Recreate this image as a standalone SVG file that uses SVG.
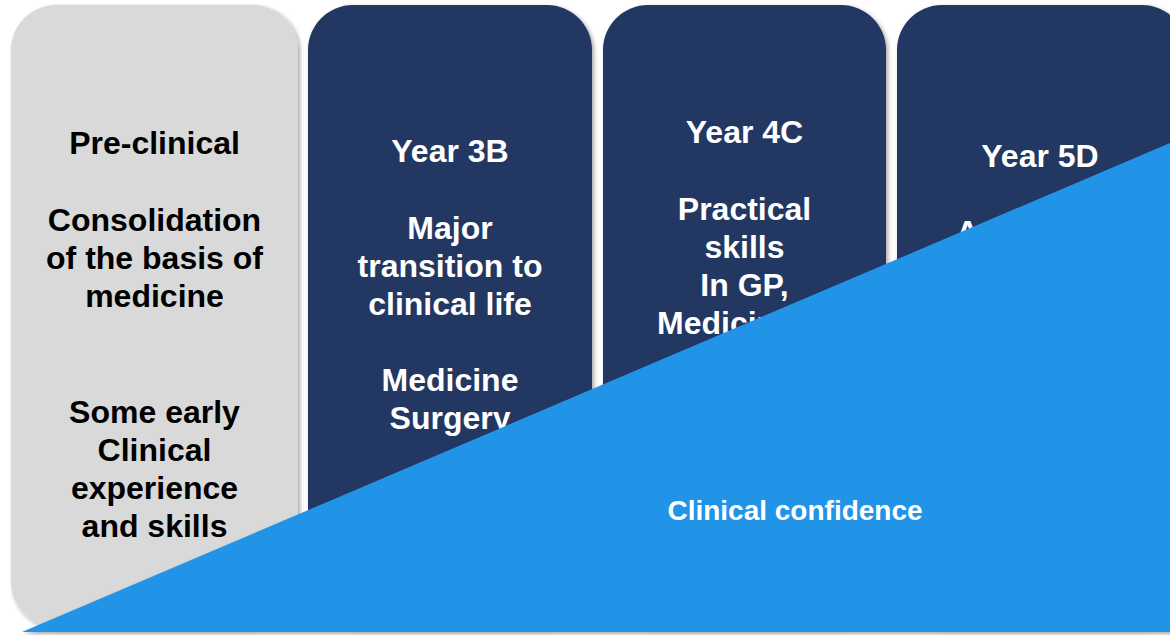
<svg xmlns="http://www.w3.org/2000/svg" width="1170" height="635" viewBox="0 0 1170 635">
<defs>
<filter id="sh" x="-10%" y="-10%" width="120%" height="120%">
<feDropShadow dx="2" dy="2" stdDeviation="2" flood-color="#000" flood-opacity="0.35"/>
</filter>
<style>
.col{filter:url(#sh)}
.t{font-family:"Liberation Sans",Arial,sans-serif;font-weight:bold;font-size:32px;text-anchor:middle}
.dk{fill:#000}
.wt{fill:#fff}
</style>
</defs>
<rect width="1170" height="635" fill="#fff"/>
<g id="col1">
<rect class="col" x="11" y="5" width="287" height="622" rx="45" fill="#D9D9D9"/>
<text class="t dk" x="154.5" y="154">Pre-clinical</text>
<text class="t dk" x="154.5" y="231">Consolidation</text>
<text class="t dk" x="154.5" y="269">of the basis of</text>
<text class="t dk" x="154.5" y="307">medicine</text>
<text class="t dk" x="154.5" y="423">Some early</text>
<text class="t dk" x="154.5" y="461">Clinical</text>
<text class="t dk" x="154.5" y="499">experience</text>
<text class="t dk" x="154.5" y="537">and skills</text>
</g>
<g id="col2">
<rect class="col" x="308" y="5" width="284" height="622" rx="45" fill="#203864"/>
<text class="t wt" x="450" y="162">Year 3B</text>
<text class="t wt" x="450" y="239">Major</text>
<text class="t wt" x="450" y="277">transition to</text>
<text class="t wt" x="450" y="315">clinical life</text>
<text class="t wt" x="450" y="391">Medicine</text>
<text class="t wt" x="450" y="429">Surgery</text>
</g>
<g id="col3">
<rect class="col" x="603" y="5" width="283" height="622" rx="45" fill="#203864"/>
<text class="t wt" x="744.5" y="143">Year 4C</text>
<text class="t wt" x="744.5" y="220">Practical</text>
<text class="t wt" x="744.5" y="258">skills</text>
<text class="t wt" x="744.5" y="296">In GP,</text>
<text class="t wt" x="657" y="334" style="text-anchor:start">Medicine,</text>
</g>
<g id="col4">
<rect class="col" x="897" y="5" width="290" height="622" rx="45" fill="#203864"/>
<text class="t wt" x="1040" y="167">Year 5D</text>
<text class="t wt" x="956" y="243" style="text-anchor:start">A</text>
</g>
<g id="confidence">
<polygon class="col" points="22,632 1170,143 1172,143 1172,632" fill="#2294E8"/>
<text class="t wt" x="795" y="520" style="font-size:28px">Clinical confidence</text>
</g>
</svg>
